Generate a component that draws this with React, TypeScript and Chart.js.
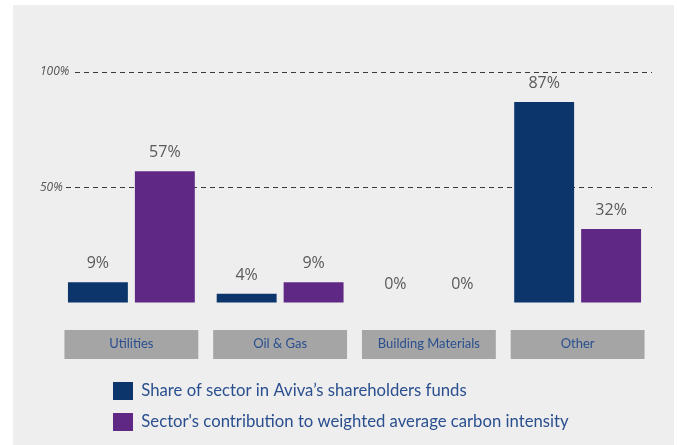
import React, { useEffect, useRef } from 'react';
import { Chart, registerables } from 'chart.js';

Chart.register(...registerables);

const categories = ['Utilities', 'Oil & Gas', 'Building Materials', 'Other'];
const shareOfFunds = [9, 4, 0, 87];
const carbonContribution = [57, 9, 0, 32];
const seriesNames = [
  'Share of sector in Aviva\u2019s shareholders funds',
  "Sector's contribution to weighted average carbon intensity",
];
const yMax = 100;
const yStep = 50;

const BLUE = '#0b356b';
const PURPLE = '#5f2885';
const TEXT_BLUE = '#2a4f8f';
const BG = '#eeeeee';

const labelBoxes = {
  id: 'labelBoxes',
  beforeDraw(chart: any) {
    const x = chart.scales.x;
    const { ctx, chartArea } = chart;
    const w = ((chartArea.right - chartArea.left) / categories.length) * 0.9;
    ctx.save();
    ctx.fillStyle = '#a5a5a5';
    categories.forEach((_, i) => {
      const px = x.getPixelForValue(i);
      ctx.fillRect(px - w / 2, chartArea.bottom + 27, w, 29);
    });
    ctx.restore();
  },
};

const valueLabels = {
  id: 'valueLabels',
  afterDatasetsDraw(chart: any) {
    const { ctx } = chart;
    ctx.save();
    ctx.font = '16px "Open Sans"';
    ctx.fillStyle = '#595959';
    ctx.textAlign = 'center';
    ctx.textBaseline = 'alphabetic';
    chart.data.datasets.forEach((ds: any, di: number) => {
      const meta = chart.getDatasetMeta(di);
      meta.data.forEach((bar: any, i: number) => {
        ctx.fillText(ds.data[i] + '%', bar.x, bar.y - 14);
      });
    });
    ctx.restore();
  },
};

const legendShift = {
  id: 'legendShift',
  afterLayout(chart: any) {
    if (chart.legend) {
      chart.legend.left += 43;
    }
  },
};

export default function App() {
  const ref = useRef<HTMLCanvasElement | null>(null);

  useEffect(() => {
    if (!ref.current) return;
    const chart = new Chart(ref.current, {
      type: 'bar',
      data: {
        labels: categories,
        datasets: [
          {
            label: seriesNames[0],
            data: shareOfFunds,
            backgroundColor: BLUE,
            borderWidth: 0,
          },
          {
            label: seriesNames[1],
            data: carbonContribution,
            backgroundColor: PURPLE,
            borderWidth: 0,
          },
        ],
      },
      options: {
        animation: false,
        responsive: false,
        devicePixelRatio: 1,
        layout: { padding: { top: 72, left: 57, right: 25, bottom: 4 } },
        datasets: {
          bar: { categoryPercentage: 0.9, barPercentage: 0.895 },
        },
        plugins: {
          tooltip: { enabled: false },
          legend: {
            position: 'bottom',
            align: 'start',
            labels: {
              boxWidth: 20,
              boxHeight: 18,
              padding: 13,
              color: TEXT_BLUE,
              font: { family: 'Lato', size: 16.7 },
            },
          },
        },
        scales: {
          x: {
            grid: { display: false },
            border: { display: false },
            ticks: {
              color: TEXT_BLUE,
              font: { family: 'Lato', size: 13 },
              padding: 25,
              maxRotation: 0,
              autoSkip: false,
            },
            afterFit(scale: any) {
              scale.height = 66;
            },
          },
          y: {
            min: 0,
            max: yMax,
            border: { display: false, dash: [5, 4] },
            grid: {
              drawTicks: false,
              color: (c: any) => (c.tick && c.tick.value === 0 ? 'rgba(0,0,0,0)' : '#3a3a3a'),
              lineWidth: 1,
            },
            ticks: {
              stepSize: yStep,
              mirror: true,
              crossAlign: 'near',
              padding: -17,
              color: '#555555',
              font: { family: 'Open Sans', size: 12, style: 'italic' },
              showLabelBackdrop: true,
              backdropColor: BG,
              backdropPadding: { top: 0, bottom: 0, left: 0, right: 2 },
              callback: (v: any) => (v === 0 ? '' : v + '%'),
            },
            afterFit(scale: any) {
              scale.width = 0;
            },
          },
        },
      },
      plugins: [labelBoxes, valueLabels, legendShift],
    } as any);
    return () => chart.destroy();
  }, []);

  return (
    <div style={{ position: 'fixed', left: 0, top: 0, width: 677, height: 445, background: '#ffffff' }}>
      <div style={{ position: 'absolute', left: 13, top: 5, width: 661, height: 440, background: BG }} />
      <canvas ref={ref} width={677} height={445} style={{ position: 'absolute', left: 0, top: 0, width: 677, height: 445 }} />
    </div>
  );
}
